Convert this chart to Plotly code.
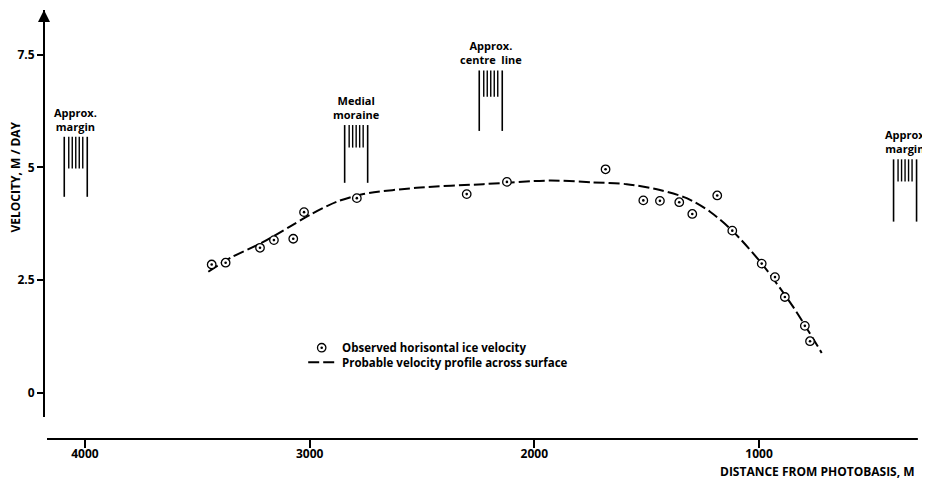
import plotly.graph_objects as go

# ---------------- data ----------------
obs_distance = [3436, 3374, 3221, 3159, 3073, 3025, 2790, 2301, 2122, 1683,
                1515, 1441, 1355, 1297, 1186, 1119, 988, 929, 885, 796, 773]
obs_velocity = [2.85, 2.89, 3.22, 3.39, 3.42, 4.01, 4.32, 4.41, 4.68, 4.96,
                4.27, 4.26, 4.23, 3.97, 4.38, 3.60, 2.87, 2.57, 2.13, 1.49, 1.15]

profile_distance = [3451, 3355, 3206, 3088, 2999, 2880, 2761, 2524, 2227, 1931,
                    1738, 1589, 1441, 1322, 1218, 1119, 988, 848, 721]
profile_velocity = [2.69, 2.99, 3.35, 3.69, 3.95, 4.24, 4.41, 4.55, 4.63, 4.71,
                    4.67, 4.63, 4.50, 4.32, 4.02, 3.60, 2.87, 1.91, 0.89]

feature_labels = ["Approx.<br>margin", "Medial<br>moraine",
                  "Approx.<br>centre\u00a0\u00a0line", "Approx<br>margin"]
feature_distance = [4041, 2793, 2194, 350]
feature_top = [5.68, 5.94, 7.15, 5.18]
feature_bottom = [4.35, 4.66, 5.81, 3.80]
feature_hatch_bottom = [4.98, 5.44, 6.57, 4.69]

x_axis_extent = [4169, 293]
x_tick_values = [4000, 3000, 2000, 1000]
x_tick_labels = ["4000", "3000", "2000", "1000"]
y_tick_values = [0, 2.5, 5, 7.5]
y_tick_labels = ["0", "2.5", "5", "7.5"]

legend_labels = ["Observed horisontal ice velocity",
                 "Probable velocity profile across surface"]

x_title = "DISTANCE FROM PHOTOBASIS, M"
y_title = "VELOCITY, M / DAY"

# ---------------- style ----------------
FONT = "Open Sans"
INK = "black"

fig = go.Figure()

fig.add_trace(go.Scatter(
    x=profile_distance, y=profile_velocity, mode="lines",
    line=dict(color=INK, width=2, dash="11px,4px", shape="spline", smoothing=0.8),
    name=legend_labels[1], hoverinfo="skip"))

fig.add_trace(go.Scatter(
    x=obs_distance, y=obs_velocity, mode="markers",
    marker=dict(symbol="circle", size=8.5, color="white",
                line=dict(color=INK, width=1.3)),
    name=legend_labels[0]))
fig.add_trace(go.Scatter(
    x=obs_distance, y=obs_velocity, mode="markers",
    marker=dict(symbol="circle", size=2.6, color=INK, line=dict(width=0)),
    showlegend=False, hoverinfo="skip"))

shapes = []
annotations = []

# plot-area size in pixels (the page shows the figure 8 px in from the top-left)
W = 886.0
H = 429.0


def px_x(sx):
    return (sx - 44) / W


def px_y(sy):
    return (439 - sy) / H


# distance axis line (drawn only over its own extent)
shapes.append(dict(type="line", xref="x", yref="paper",
                   x0=x_axis_extent[0], x1=x_axis_extent[1], y0=0, y1=0,
                   line=dict(color=INK, width=2)))

# feature markers (margins, moraine, centre line)
for lab, d, top, bot, hb in zip(feature_labels, feature_distance, feature_top,
                                feature_bottom, feature_hatch_bottom):
    for off in (-11.5, 11.5):
        shapes.append(dict(type="line", xref="x", yref="y", xsizemode="pixel",
                           xanchor=d, x0=off, x1=off, y0=bot, y1=top,
                           line=dict(color=INK, width=1.6)))
    for off in (-7, -3.5, 0, 3.5, 7):
        shapes.append(dict(type="line", xref="x", yref="y", xsizemode="pixel",
                           xanchor=d, x0=off, x1=off, y0=hb, y1=top,
                           line=dict(color=INK, width=1.4)))
    annotations.append(dict(x=d, y=top, xref="x", yref="y", text=lab,
                            showarrow=False, yanchor="bottom", xanchor="center",
                            yshift=1,
                            font=dict(family=FONT, size=11, color=INK, weight=700)))

# manual legend (paper coordinates)
leg_x = px_x(321.7)
leg_y = px_y(347.7)
text_x = px_x(340)
row_gap = 14.6
shapes.append(dict(type="circle", xref="paper", yref="paper",
                   xsizemode="pixel", ysizemode="pixel",
                   xanchor=leg_x, yanchor=leg_y, x0=-4.2, x1=4.2, y0=-4.2, y1=4.2,
                   line=dict(color=INK, width=1.3), fillcolor="white"))
shapes.append(dict(type="circle", xref="paper", yref="paper",
                   xsizemode="pixel", ysizemode="pixel",
                   xanchor=leg_x, yanchor=leg_y, x0=-1.3, x1=1.3, y0=-1.3, y1=1.3,
                   line=dict(width=0), fillcolor=INK))
shapes.append(dict(type="line", xref="paper", yref="paper",
                   xsizemode="pixel", ysizemode="pixel",
                   xanchor=leg_x, yanchor=leg_y, x0=-13.5, x1=13.5,
                   y0=-row_gap, y1=-row_gap,
                   line=dict(color=INK, width=2, dash="11px,4px")))
for i, lab in enumerate(legend_labels):
    annotations.append(dict(x=text_x, y=leg_y, xref="paper", yref="paper",
                            text=lab, showarrow=False, xanchor="left",
                            yanchor="middle", yshift=-row_gap * i,
                            font=dict(family=FONT, size=11.5, color=INK, weight=700)))

# axis titles
annotations.append(dict(x=px_x(917), y=0, xref="paper", yref="paper", text=x_title,
                        showarrow=False, xanchor="right", yanchor="middle",
                        yshift=-32,
                        font=dict(family=FONT, size=12, color=INK, weight=700)))
annotations.append(dict(x=px_x(14.5), y=px_y(177), xref="paper",
                        yref="paper", text=y_title, showarrow=False,
                        textangle=-90, xanchor="center", yanchor="middle",
                        font=dict(family=FONT, size=12, color=INK, weight=700)))

# arrow at the top of the velocity axis
annotations.append(dict(x=0, y=1, xref="paper", yref="paper", text="",
                        showarrow=True, arrowhead=2, arrowsize=1.2,
                        arrowwidth=2, arrowcolor=INK, ax=0, ay=22))

tickfont = dict(family=FONT, size=12, color=INK, weight=700)

fig.update_layout(
    width=930, height=480,
    margin=dict(l=36, r=8, t=2, b=49),
    paper_bgcolor="white", plot_bgcolor="white",
    showlegend=False,
    shapes=shapes, annotations=annotations,
    xaxis=dict(domain=[3 / W, 1], range=[4169, 239], anchor="free", position=0,
               showline=False,
               ticks="outside", ticklen=8, tickwidth=1.5, tickcolor=INK,
               ticklabelstandoff=-4,
               tickvals=x_tick_values, ticktext=x_tick_labels,
               showgrid=False, zeroline=False, tickfont=tickfont),
    yaxis=dict(domain=[22 / H, 1], range=[-0.53, 8.49], anchor="free", position=0,
               showline=True, linewidth=2, linecolor=INK,
               ticks="outside", ticklen=6, tickwidth=1.5, tickcolor=INK,
               tickvals=y_tick_values, ticktext=y_tick_labels,
               showgrid=False, zeroline=False, tickfont=tickfont),
)

fig.write_html("out.html")
